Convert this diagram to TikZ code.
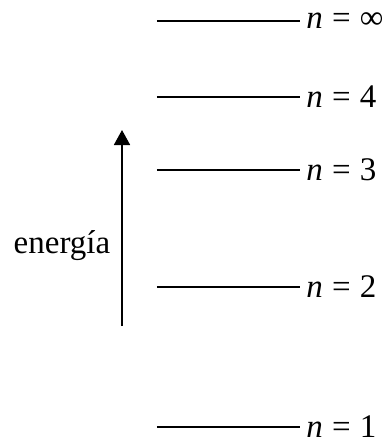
\documentclass[tikz,border=0pt]{standalone}
\usepackage{fontspec}
\setmainfont{Liberation Serif}
\newfontfamily\levelfont{Liberation Serif}
\usetikzlibrary{arrows.meta}
\tikzset{
  level/.style={line width=0.75pt},
  levellabel/.style={anchor=west, inner sep=0pt, font=\levelfont\fontsize{16.5}{19}\selectfont},
}
\begin{document}
\begin{tikzpicture}[x=0.5pt,y=-0.5pt]
  \useasboundingbox (0,0) rectangle (390,446);
  \foreach \k/\y/\lab in {inf/21/∞, four/97/4, three/170/3, two/287/2, one/427/1} {
    \coordinate (L\k) at (157,\y);
    \coordinate (R\k) at (300,\y);
    \draw[level] (L\k) -- (R\k);
    \node[levellabel] (n\k) at (306,\y) {\textit{n}\;=\;\lab};
  }
  \coordinate (A) at (122,326);
  \coordinate (B) at (122,130);
  \draw[line width=0.9pt, -{Triangle[length=7.5pt, width=8pt]}] (A) -- (B);
  \node[font=\levelfont\fontsize{16.5}{19}\selectfont] (en) at (62,246) {energía};
\end{tikzpicture}
\end{document}
